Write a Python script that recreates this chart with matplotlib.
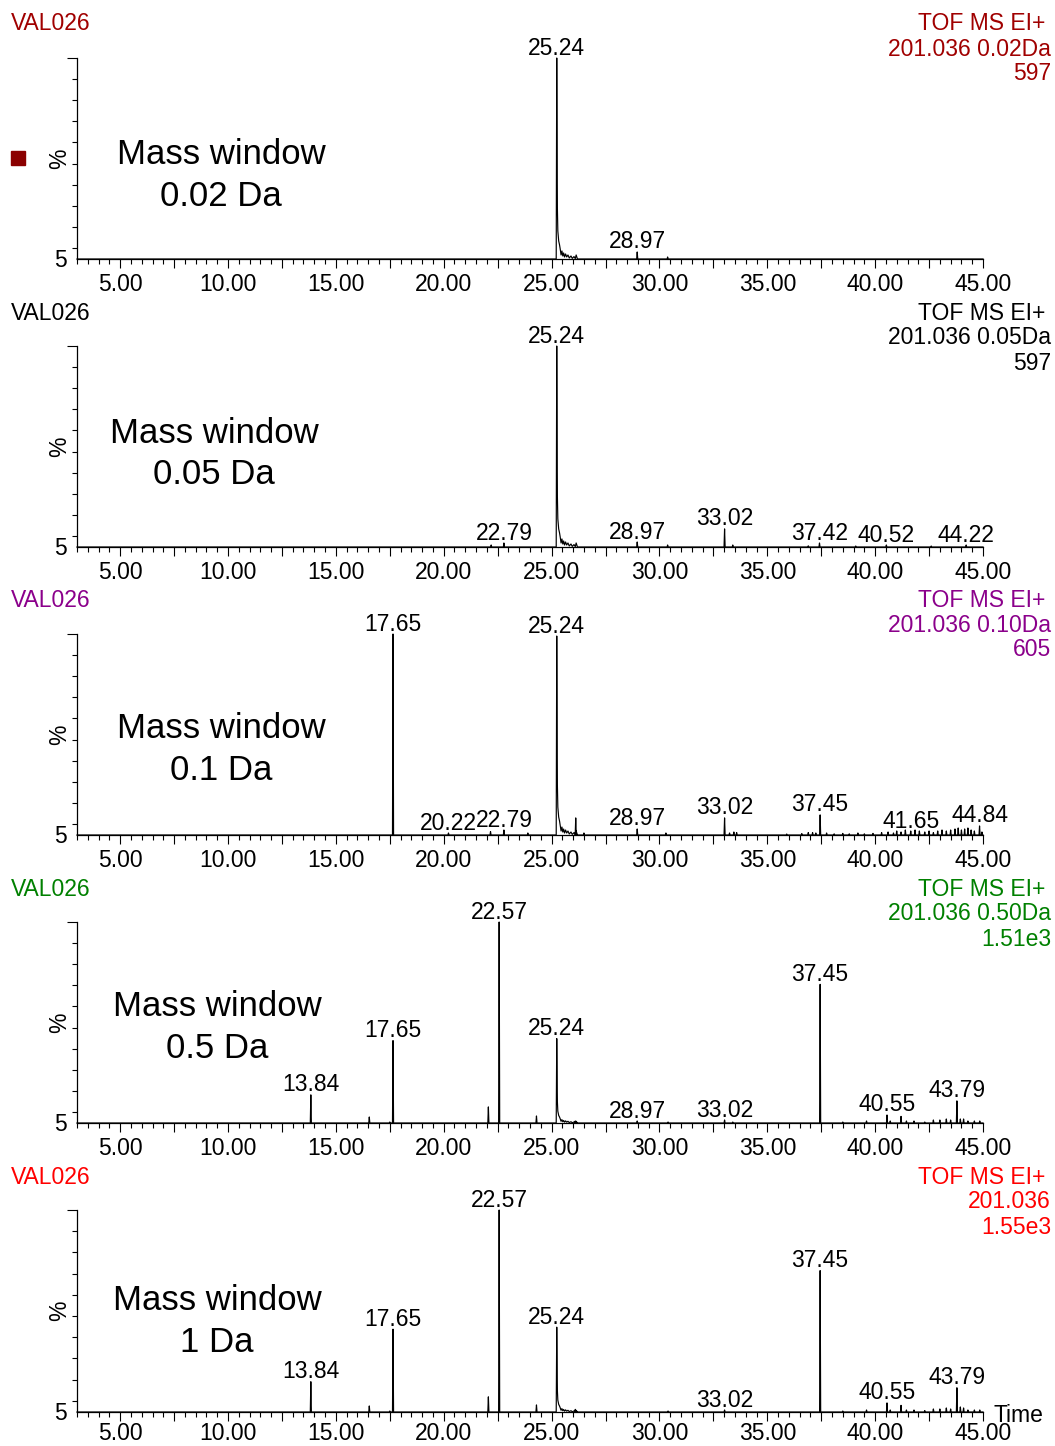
import numpy as np
import matplotlib
matplotlib.use("Agg")
import matplotlib.pyplot as plt
from matplotlib.patches import Rectangle
from matplotlib.ticker import MultipleLocator, FixedLocator, FuncFormatter

plt.rcParams['font.family'] = ['Liberation Sans', 'DejaVu Sans']

W, H = 1055, 1446

# ---------------------------------------------------------------- data
sample_name = "VAL026"
acq_mode = "TOF MS EI+"
mass_lines = ["201.036 0.02Da", "201.036 0.05Da", "201.036 0.10Da",
              "201.036 0.50Da", "201.036"]
max_counts = ["597", "597", "605", "1.51e3", "1.55e3"]
window_line1 = "Mass window"
window_line2 = ["0.02 Da", "0.05 Da", "0.1 Da", "0.5 Da", "1 Da"]
trace_colors = ["#a00000", "#000000", "#8b008b", "#008000", "#ff0000"]

# labelled peaks: retention time (min) and height (% of trace maximum)
rt_002 = [25.24, 28.97]
h_002 = [100, 3.5]
rt_005 = [22.79, 25.24, 28.97, 33.02, 37.42, 40.52, 44.22]
h_005 = [2.0, 100, 2.5, 9.0, 2.0, 1.0, 1.0]
rt_010 = [17.65, 20.22, 22.79, 25.24, 28.97, 33.02, 37.45, 41.65, 44.84]
h_010 = [100, 1.0, 2.5, 99, 3.0, 8.5, 10.0, 2.0, 4.5]
rt_050 = [13.84, 17.65, 22.57, 25.24, 28.97, 33.02, 37.45, 40.55, 43.79]
h_050 = [14, 41, 100, 42, 1.0, 1.5, 69, 4.0, 11]
rt_100 = [13.84, 17.65, 22.57, 25.24, 33.02, 37.45, 40.55, 43.79]
h_100 = [15, 41, 100, 42, 1.0, 70, 4.5, 12]

# unlabelled minor peaks and baseline noise (retention time, %)
minor_rt_002 = [30.38]
minor_h_002 = [1.0]
minor_rt_005 = [22.20, 30.38, 33.40, 36.90, 39.10, 42.60]
minor_h_005 = [1.0, 1.0, 1.0, 0.6, 0.5, 0.5]
minor_rt_010 = [22.17, 23.90, 26.12, 26.50, 30.30, 33.25, 33.45, 33.58,
                35.90, 36.60, 36.90, 37.10, 37.25, 37.75, 38.10, 38.50,
                38.80, 39.20, 39.50, 39.90, 40.30, 40.60, 40.85, 41.00,
                41.20, 41.40, 41.85, 42.05, 42.30, 42.50, 42.70, 42.90,
                43.10, 43.30, 43.50, 43.70, 43.85, 44.00, 44.15, 44.30,
                44.45, 44.60, 44.95]
minor_h_010 = [1.7, 1.0, 8.5, 1.0, 1.0, 1.0, 1.5, 1.2,
               0.5, 0.7, 1.2, 1.2, 1.0, 1.0, 0.6, 0.8,
               0.6, 1.0, 0.6, 0.8, 1.2, 1.5, 1.0, 2.0,
               1.5, 2.5, 2.5, 2.0, 1.5, 2.0, 1.2, 2.0,
               2.5, 2.0, 2.5, 3.0, 3.5, 2.5, 3.0, 3.5,
               2.5, 2.0, 1.5]
minor_rt_050 = [16.55, 17.50, 22.07, 24.30, 26.10, 30.40, 33.40, 38.50,
                39.60, 40.70, 41.20, 41.45, 41.80, 42.30, 42.70, 43.00,
                43.30, 43.50, 43.95, 44.10, 44.30, 44.60, 44.85]
minor_h_050 = [3.0, 0.5, 8.0, 3.5, 1.0, 0.5, 0.5, 0.5,
               1.0, 1.0, 3.3, 1.0, 1.0, 0.5, 1.5, 1.5,
               2.0, 1.5, 2.0, 2.0, 1.0, 1.0, 1.0]
minor_rt_100 = [16.55, 17.50, 22.07, 24.30, 26.10, 30.40, 38.50,
                39.60, 40.70, 41.20, 41.45, 41.80, 42.30, 42.70, 43.00,
                43.30, 43.50, 43.95, 44.10, 44.30, 44.60, 44.85]
minor_h_100 = [3.0, 0.5, 7.5, 3.5, 1.3, 0.5, 0.5,
               1.0, 1.0, 3.3, 1.0, 1.0, 0.7, 1.5, 1.5,
               2.0, 1.5, 2.5, 2.0, 1.0, 1.0, 1.0]

# tailing of the 25.24 min peak, as fraction of its apex
tail_rt = [25.27, 25.29, 25.33, 25.37, 25.40, 25.44, 25.48, 25.52, 25.56,
           25.60, 25.65, 25.70, 25.76, 25.82, 25.90, 25.96, 26.04, 26.10,
           26.14, 26.20]
tail_frac = [0.25, 0.14, 0.09, 0.07, 0.05, 0.02, 0.04, 0.015, 0.03,
             0.01, 0.025, 0.01, 0.02, 0.005, 0.015, 0.003, 0.012, 0.002,
             0.02, 0.0]
TAILING_PEAK = 25.24

panels = [
    (rt_002, h_002, minor_rt_002, minor_h_002),
    (rt_005, h_005, minor_rt_005, minor_h_005),
    (rt_010, h_010, minor_rt_010, minor_h_010),
    (rt_050, h_050, minor_rt_050, minor_h_050),
    (rt_100, h_100, minor_rt_100, minor_h_100),
]

# ---------------------------------------------------------------- layout (px)
AX_LEFT, AX_RIGHT = 77, 983
panel_tops = [58, 346, 634, 922, 1210]
panel_bottoms = [259, 547, 835, 1123, 1412]
header_y0 = [24, 313, 600, 889, 1177]
window_text_x = [221, 214, 221, 217, 217]
window_text_y = [154, 433, 728, 1006, 1301]
tick_label_pad = [3.5, 3.5, 3.5, 3.5, 1.0]
HALF_WIDTH = 0.025


def build_trace(rts, hs):
    """Turn a list of peak apexes into a stick-like chromatogram trace."""
    order = np.argsort(rts)
    xs, ys = [3.0], [0.0]
    for i in order:
        rt, h = rts[i], hs[i]
        xs += [rt - HALF_WIDTH, rt]
        ys += [0.0, h]
        if abs(rt - TAILING_PEAK) < 1e-6:
            xs += list(tail_rt)
            ys += [f * h for f in tail_frac]
        else:
            xs.append(rt + HALF_WIDTH)
            ys.append(0.0)
    xs.append(45.0)
    ys.append(0.0)
    return np.array(xs), np.array(ys)


def px_x(x):
    return x / W


def px_y(y):
    return 1 - y / H


fig = plt.figure(figsize=(W / 100, H / 100), dpi=100)

FS = 16.5
BIG = 25
for k, (rts, hs, mrts, mhs) in enumerate(panels):
    top, bot = panel_tops[k], panel_bottoms[k]
    ax = fig.add_axes([px_x(AX_LEFT), px_y(bot),
                       (AX_RIGHT - AX_LEFT) / W, (bot - top) / H])
    xs, ys = build_trace(list(rts) + list(mrts), list(hs) + list(mhs))
    ax.plot(xs, ys, color="black", lw=0.85, clip_on=False)
    ax.set_xlim(3.0, 45.0)
    ax.set_ylim(0, 100)

    for rt, h in zip(rts, hs):
        ax.annotate(f"{rt:.2f}", xy=(rt, h), xytext=(0, 2.5),
                    textcoords="offset points", ha="center",
                    va="baseline", fontsize=FS, annotation_clip=False)

    for s in ("top", "right"):
        ax.spines[s].set_visible(False)
    for s in ("left", "bottom"):
        ax.spines[s].set_linewidth(0.9)

    ax.xaxis.set_major_locator(MultipleLocator(2.5))
    ax.xaxis.set_minor_locator(MultipleLocator(0.5))
    ax.xaxis.set_major_formatter(FuncFormatter(
        lambda v, p: f"{v:.2f}" if abs(v / 5 - round(v / 5)) < 1e-6 else ""))
    ax.tick_params(axis="x", which="major", length=6.5, width=0.8,
                   labelsize=FS, pad=tick_label_pad[k])
    ax.tick_params(axis="x", which="minor", length=3.6, width=0.8)

    ax.yaxis.set_major_locator(FixedLocator([100]))
    ax.yaxis.set_major_formatter(FuncFormatter(lambda v, p: ""))
    ax.yaxis.set_minor_locator(FixedLocator(np.linspace(100, 5.5, 10)[1:]))
    ax.tick_params(axis="y", which="major", length=7, width=0.8)
    ax.tick_params(axis="y", which="minor", length=3.6, width=0.8)
    ax.text(-0.011, -0.5, "5", transform=ax.get_yaxis_transform(),
            ha="right", va="center", fontsize=FS)

    mid = (top + bot) / 2
    fig.text(px_x(60), px_y(mid), "%", rotation=90, ha="center",
             va="center", fontsize=FS)

    col = trace_colors[k]
    y0 = header_y0[k]
    fig.text(px_x(11), px_y(y0), sample_name, color=col, fontsize=FS,
             ha="left", va="center")
    fig.text(px_x(1045), px_y(y0), acq_mode, color=col, fontsize=FS,
             ha="right", va="center")
    fig.text(px_x(1051), px_y(y0 + 25), mass_lines[k], color=col,
             fontsize=FS, ha="right", va="center")
    fig.text(px_x(1051), px_y(y0 + 50), max_counts[k], color=col,
             fontsize=FS, ha="right", va="center")

    cx, cy = window_text_x[k], window_text_y[k]
    fig.text(px_x(cx), px_y(cy), window_line1, fontsize=BIG,
             ha="center", va="center")
    fig.text(px_x(cx), px_y(cy + 42), window_line2[k], fontsize=BIG,
             ha="center", va="center")

# channel marker next to the first trace
fig.patches.append(Rectangle((px_x(11), px_y(165)), 14 / W, 14 / H,
                             transform=fig.transFigure, color="#8b0000"))

fig.text(px_x(993), px_y(1415), "Time", fontsize=FS, ha="left", va="center")

fig.savefig("out.png", dpi=100)
